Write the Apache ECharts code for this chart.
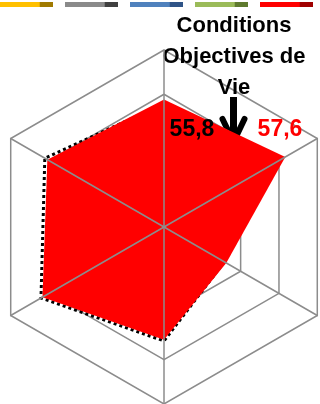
<!DOCTYPE html>
<html>
<head>
<meta charset="utf-8">
<script src="https://cdn.jsdelivr.net/npm/echarts@6/dist/echarts.min.js"></script>
<style>
  html, body { margin: 0; padding: 0; background: #fff; }
  #chart { width: 320px; height: 404px; }
</style>
</head>
<body>
<div id="chart"></div>
<script>
// axes (counter-clockwise from the top); only the top name is inside the frame
const indicatorNames = ['Conditions\nObjectives de\nVie', '', '', '', '', ''];
const indicatorMax = 80;

// dotted black series (reference) and red series
const refValues = [55.8, 62.2, 64.2, 51.5, 31.5, 60.0];
const redValues = [57.6, 60.9, 63.4, 51.0, 32.5, 63.3];

// legend entries at the top edge (cut off by the frame)
const legendNames = ['Série 1', 'Série 2', 'Série 3', 'Série 4', 'Série 5'];
const legendColors = [
  ['#ffc000', '#a07a00'],
  ['#8a8a8a', '#404040'],
  ['#4f81bd', '#2f5487'],
  ['#9bbb59', '#5f7a2e'],
  ['#ff0000', '#a00000']
];

const chart = echarts.init(document.getElementById('chart'));

const gridColor = '#8c8c8c';
const indicator = indicatorNames.map(n => ({ name: n, min: 0, max: indicatorMax }));

// only the top vertex carries a value label
const topLabel = (values) => (p) => {
  const v = Array.isArray(p.value) ? p.value[0] : p.value;
  return v === values[0] ? String(v).replace('.', ',') : '';
};

const labelBase = {
  show: true,
  position: 'inside',
  fontSize: 23,
  fontWeight: 'bold',
  fontFamily: 'Liberation Sans'
};

const option = {
  animation: false,
  legend: {
    top: 2,
    left: 0,
    padding: 0,
    icon: 'rect',
    itemWidth: 53,
    itemHeight: 5,
    itemGap: 12,
    selectedMode: false,
    formatter: () => '',
    data: legendNames.map((n, i) => ({
      name: n,
      itemStyle: {
        color: {
          type: 'linear', x: 0, y: 0, x2: 1, y2: 0,
          colorStops: [
            { offset: 0, color: legendColors[i][0] },
            { offset: 0.74, color: legendColors[i][0] },
            { offset: 0.76, color: legendColors[i][1] },
            { offset: 1, color: legendColors[i][1] }
          ]
        }
      }
    }))
  },
  radar: [
    {
      // rings, under the areas
      center: [164, 227],
      radius: 177,
      startAngle: 90,
      splitNumber: 4,
      shape: 'polygon',
      indicator: indicator,
      nameGap: -53,
      axisName: {
        color: '#000',
        fontSize: 22,
        fontWeight: 'bold',
        fontFamily: 'Liberation Sans',
        lineHeight: 31,
        padding: [0, 0, 0, 140]
      },
      splitLine: { lineStyle: { color: gridColor, width: 1.5 } },
      splitArea: { show: false },
      axisLine: { show: false },
      axisTick: { show: false },
      axisLabel: { show: false },
      z: 0
    },
    {
      // spokes, drawn over the red area
      center: [164, 227],
      radius: 177,
      startAngle: 90,
      splitNumber: 4,
      shape: 'polygon',
      indicator: indicator.map(d => ({ name: '', min: d.min, max: d.max })),
      axisName: { show: false },
      splitLine: { show: false },
      splitArea: { show: false },
      axisLine: { lineStyle: { color: gridColor, width: 1.5 } },
      axisTick: { show: false },
      axisLabel: { show: false },
      z: 5
    }
  ],
  series: [
    { type: 'custom', name: 'Série 1', coordinateSystem: 'none', data: [], renderItem: () => null },
    { type: 'custom', name: 'Série 2', coordinateSystem: 'none', data: [], renderItem: () => null },
    { type: 'custom', name: 'Série 3', coordinateSystem: 'none', data: [], renderItem: () => null },
    { type: 'custom', name: 'Série 4', coordinateSystem: 'none', data: [], renderItem: () => null },
    {
      type: 'radar',
      radarIndex: 0,
      z: 1,
      symbol: 'circle',
      symbolSize: 0.1,
      data: [{
        name: 'Référence',
        value: refValues,
        itemStyle: { color: '#000' },
        lineStyle: { color: '#000', width: 3, type: [3, 3] }
      }]
    },
    {
      type: 'radar',
      radarIndex: 0,
      z: 2,
      symbol: 'circle',
      symbolSize: 0.1,
      data: [{
        name: 'Série 5',
        value: redValues,
        itemStyle: { color: '#ff0000' },
        lineStyle: { width: 0 },
        areaStyle: { color: '#ff0000', opacity: 1 },
        label: Object.assign({}, labelBase, {
          color: '#ff0000',
          offset: [116, 30],
          formatter: topLabel(redValues)
        })
      }]
    },
    {
      // value label of the dotted series, kept above the red area
      type: 'radar',
      radarIndex: 0,
      z: 6,
      symbol: 'circle',
      symbolSize: 0.1,
      silent: true,
      data: [{
        name: 'Référence ',
        value: refValues,
        itemStyle: { color: 'rgba(0,0,0,0)' },
        lineStyle: { width: 0, opacity: 0 },
        label: Object.assign({}, labelBase, {
          color: '#000',
          offset: [28, 26],
          formatter: topLabel(refValues)
        })
      }]
    }
  ],
  graphic: [
    {
      // down arrow next to the top values
      type: 'group',
      z: 10,
      children: [
        {
          type: 'line',
          shape: { x1: 233.5, y1: 97, x2: 233.5, y2: 140 },
          style: { stroke: '#000', lineWidth: 7 }
        },
        {
          type: 'polyline',
          shape: { points: [[222.5, 119], [233.5, 142], [244.5, 119]] },
          style: { stroke: '#000', lineWidth: 6, lineCap: 'round', lineJoin: 'miter', fill: null }
        }
      ]
    }
  ]
};

chart.setOption(option);
</script>
</body>
</html>
